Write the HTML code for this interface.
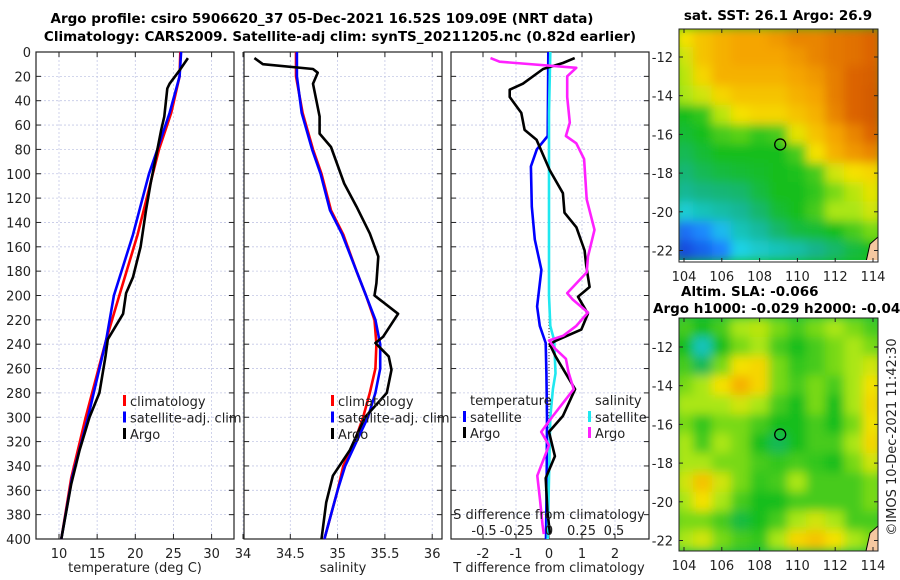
<!DOCTYPE html>
<html><head><meta charset="utf-8"><style>
body{margin:0;background:#fff;}
svg{display:block;font-family:"DejaVu Sans","Liberation Sans",sans-serif;}
.t{font-size:13px;fill:#222;}
.b{font-size:13.5px;font-weight:bold;fill:#000;}
</style></head><body>
<svg id="c" width="900" height="580" viewBox="0 0 900 580">
<defs>
<filter id="blur1" x="-10%" y="-10%" width="120%" height="120%"><feGaussianBlur stdDeviation="5"/></filter>
<clipPath id="clipM1"><rect x="679" y="29" width="199" height="231"/></clipPath>
<clipPath id="clipM2"><rect x="679" y="318" width="199" height="233"/></clipPath>
</defs>
<text class="b" x="322" y="23" text-anchor="middle">Argo profile: csiro 5906620_37 05-Dec-2021 16.52S 109.09E (NRT data)</text>
<text class="b" x="340" y="41" text-anchor="middle">Climatology: CARS2009. Satellite-adj clim: synTS_20211205.nc (0.82d earlier)</text>
<text class="b" x="778" y="20" text-anchor="middle">sat. SST: 26.1 Argo: 26.9</text>
<text class="b" x="681" y="296">Altim. SLA: -0.066</text>
<text class="b" x="653" y="313">Argo h1000: -0.029 h2000: -0.046</text>
<text class="t" transform="translate(896,437) rotate(-90)" text-anchor="middle">©IMOS 10-Dec-2021 11:42:30</text>
</svg>
<script>
// ---- data ----
const depthTicks=[0,20,40,60,80,100,120,140,160,180,200,220,240,260,280,300,320,340,360,380,400];
const tempTicks=[10,15,20,25,30];
const salTicks=[34,34.5,35,35.5,36];
const tdiffTicks=[-2,-1,0,1,2];
const sdiffTicks=[-0.5,-0.25,0,0.25,0.5];
const sdiffTickLabels=["-0.5","-0.25","0","0.25","0.5"];

const argoTDepth=[5,15,26,30,53,64,80,108,130,160,185,198,215,236,250,280,300,327,355,400];
const argoT=[26.9,25.8,24.5,24.2,23.8,23.4,22.9,22.0,21.4,20.7,19.7,18.8,18.4,16.4,16.1,15.3,14.0,12.7,11.6,10.3];
const climDepth=[0,20,50,80,100,150,200,236,300,350,400];
const climT=[25.9,25.8,24.7,23.1,22.3,20.3,17.9,16.2,13.5,11.6,10.3];
const satT=[26.0,25.8,24.5,22.9,21.8,19.7,17.2,16.2,13.8,11.7,10.3];

const argoSDepth=[5,10,14,17,26,53,67,78,108,127,149,168,190,200,215,234,239,250,261,280,300,327,348,370,400];
const argoS=[34.12,34.21,34.74,34.79,34.74,34.81,34.81,34.93,35.07,35.2,35.34,35.43,35.41,35.39,35.64,35.48,35.4,35.54,35.57,35.52,35.29,35.13,34.95,34.88,34.83];
const climSDepth=[0,20,50,80,100,130,150,180,200,220,240,260,280,300,320,340,360,380,400];
const climS=[34.56,34.56,34.63,34.74,34.83,34.93,35.06,35.2,35.3,35.39,35.41,35.4,35.34,35.27,35.18,35.06,35.0,34.93,34.86];
const satS=[34.57,34.57,34.62,34.73,34.82,34.92,35.05,35.2,35.3,35.4,35.45,35.45,35.4,35.32,35.2,35.08,35.0,34.93,34.86];

const tdArgoDepth=[5,9,14,26,31,37,50,64,72,97,116,132,144,163,176,193,201,215,228,237,240,250,277,299,312,332,350,377,396];
const tdArgo=[0.78,0.42,-0.18,-0.79,-1.19,-1.19,-0.84,-0.74,-0.38,0.02,0.42,0.47,0.83,1.08,1.13,1.23,0.88,1.18,0.98,0.22,0.02,0.2,0.79,0.42,0.0,0.18,-0.1,-0.05,0.03];
const sdArgoDepth=[5,8,13,20,37,58,69,75,88,121,146,168,181,198,203,214,225,233,237,244,252,263,277,299,312,323,348,367,388,396];
const sdArgo=[-0.45,-0.38,0.21,0.14,0.14,0.16,0.13,0.21,0.27,0.29,0.35,0.3,0.29,0.14,0.18,0.3,0.21,0.11,0.0,0.05,0.13,0.15,0.19,0.03,-0.06,0.0,-0.09,-0.07,-0.05,-0.04];
const tdSatDepth=[0,37,69,80,94,127,154,179,209,225,239,264,300,350,400];
const tdSat=[-0.02,-0.03,-0.04,-0.37,-0.55,-0.52,-0.43,-0.23,-0.36,-0.28,-0.1,-0.08,-0.06,-0.07,-0.09];
const sdSatDepth=[0,50,100,150,200,225,237,264,277,300,350,400];
const sdSat=[0.01,0.0,0.0,0.0,0.0,0.01,0.04,0.05,0.03,0.01,0.0,-0.01];

const lonTicks=[104,106,108,110,112,114];
const latTicks=[-12,-14,-16,-18,-20,-22];
const mapLons=[104,105,106,107,108,109,110,111,112,113,114];
const mapLats=[-11,-12,-13,-14,-15,-16,-17,-18,-19,-20,-21,-22];
const sstGrid=[
[0.7,0.75,0.78,0.8,0.8,0.82,0.85,0.85,0.87,0.88,0.9],
[0.65,0.75,0.78,0.8,0.8,0.8,0.82,0.85,0.87,0.88,0.9],
[0.62,0.72,0.78,0.78,0.78,0.78,0.8,0.82,0.86,0.9,0.92],
[0.6,0.65,0.72,0.75,0.75,0.75,0.78,0.8,0.86,0.9,0.93],
[0.45,0.48,0.62,0.7,0.72,0.72,0.75,0.78,0.85,0.9,0.93],
[0.43,0.45,0.5,0.52,0.48,0.5,0.68,0.75,0.8,0.85,0.9],
[0.4,0.43,0.45,0.45,0.45,0.45,0.5,0.7,0.78,0.82,0.85],
[0.37,0.4,0.42,0.43,0.44,0.45,0.46,0.5,0.65,0.7,0.72],
[0.34,0.36,0.37,0.38,0.42,0.45,0.45,0.48,0.55,0.62,0.68],
[0.27,0.3,0.32,0.34,0.38,0.43,0.45,0.5,0.6,0.6,0.65],
[0.12,0.16,0.22,0.3,0.33,0.38,0.42,0.43,0.45,0.5,0.55],
[0.06,0.1,0.15,0.25,0.28,0.3,0.32,0.35,0.38,0.42,0.45]];
const slaGrid=[
[0.5,0.45,0.5,0.6,0.62,0.55,0.5,0.55,0.6,0.55,0.5],
[0.45,0.3,0.45,0.55,0.6,0.5,0.45,0.5,0.55,0.6,0.55],
[0.5,0.4,0.55,0.7,0.72,0.55,0.48,0.5,0.55,0.6,0.65],
[0.55,0.6,0.7,0.78,0.72,0.55,0.5,0.55,0.5,0.6,0.7],
[0.6,0.6,0.6,0.65,0.6,0.5,0.45,0.55,0.45,0.6,0.72],
[0.55,0.48,0.55,0.55,0.5,0.45,0.45,0.5,0.45,0.55,0.7],
[0.6,0.5,0.6,0.55,0.45,0.4,0.45,0.5,0.5,0.6,0.72],
[0.6,0.6,0.55,0.55,0.5,0.48,0.5,0.48,0.45,0.55,0.65],
[0.65,0.75,0.65,0.55,0.48,0.5,0.6,0.5,0.5,0.5,0.55],
[0.6,0.7,0.6,0.5,0.45,0.45,0.5,0.5,0.5,0.5,0.55],
[0.55,0.55,0.5,0.42,0.45,0.5,0.6,0.65,0.6,0.5,0.5],
[0.6,0.65,0.55,0.5,0.48,0.6,0.72,0.75,0.7,0.6,0.55]];
const argoLon=109.09, argoLat=-16.52;

// ---- helpers ----
const svg=document.getElementById('c');
const NS='http://www.w3.org/2000/svg';
function mk(tag,attrs,parent){const e=document.createElementNS(NS,tag);for(const k in attrs)e.setAttribute(k,attrs[k]);(parent||svg).appendChild(e);return e;}
const Y0=52,Y1=539;
const yD=d=>Y0+(d/400)*(Y1-Y0);
const P1={x0:36,x1:234}, P2={x0:244,x1:442}, P3={x0:451,x1:649};
const xT=t=>59+(t-10)*7.63;
const xS=s=>243+(s-34)*94.6;
const xTD=v=>549+v*33;
const xSD=v=>549+v*130;

function panel(P,name,gridXs){
  const g=mk('g',{});
  
  
  gridXs.forEach(x=>{const l=mk('line',{x1:x,x2:x,y1:Y0,y2:Y1,stroke:'#c4c8e6','stroke-width':0.8,'stroke-dasharray':'2,2'},g);
    });
  depthTicks.forEach(d=>{const y=yD(d);
    const l=mk('line',{x1:P.x0,x2:P.x1,y1:y,y2:y,stroke:'#c4c8e6','stroke-width':0.8,'stroke-dasharray':'2,2'},g);
    
    mk('line',{x1:P.x0,x2:P.x0+5,y1:y,y2:y,stroke:'#222'},g);
    mk('line',{x1:P.x1-5,x2:P.x1,y1:y,y2:y,stroke:'#222'},g);});
  gridXs.forEach(x=>{mk('line',{x1:x,x2:x,y1:Y1-5,y2:Y1,stroke:'#222'},g);mk('line',{x1:x,x2:x,y1:Y0,y2:Y0+5,stroke:'#222'},g);});
  const r=mk('rect',{x:P.x0,y:Y0,width:P.x1-P.x0,height:Y1-Y0,fill:'none',stroke:'#222','stroke-width':1.2},g);
  
  return g;
}
function series(xs,ds,xf,color,name,w){
  const pts=xs.map((v,i)=>xf(v).toFixed(1)+','+yD(ds[i]).toFixed(1)).join(' ');
  const p=mk('polyline',{points:pts,fill:'none',stroke:color,'stroke-width':w||2.6,'stroke-linejoin':'round'});
  
  
}
function txt(x,y,s,anchor,name,cls){const t=mk('text',{x:x,y:y,'text-anchor':anchor||'start',class:cls||'t'});t.textContent=s;
  return t;}
function legendMark(x,y,color,name){const r=mk('rect',{x:x,y:y-11,width:3,height:11,fill:color});
  }

depthTicks.forEach(d=>txt(31,yD(d)+5,String(d),'end','y-tick-label'));

panel(P1,'temperature-panel',tempTicks.map(xT));
series(climT,climDepth,xT,'#ff0000','temp-climatology-line');
series(satT,climDepth,xT,'#0000ff','temp-satellite-line');
series(argoT,argoTDepth,xT,'#000000','temp-argo-line');
tempTicks.forEach(t=>txt(xT(t),558,String(t),'middle','temp-tick-label'));
txt(135,572,'temperature (deg C)','middle','temp-axis-title');
[['#ff0000','climatology'],['#0000ff','satellite-adj. clim'],['#000000','Argo']].forEach((e,i)=>{
  legendMark(123,406+i*16.5,e[0],'temp-legend-mark');txt(130,406+i*16.5,e[1],'start','temp-legend-entry');});

panel(P2,'salinity-panel',salTicks.map(xS));
series(climS,climSDepth,xS,'#ff0000','sal-climatology-line');
series(satS,climSDepth,xS,'#0000ff','sal-satellite-line');
series(argoS,argoSDepth,xS,'#000000','sal-argo-line');
salTicks.forEach(t=>txt(xS(t),558,String(t),'middle','sal-tick-label'));
txt(343,572,'salinity','middle','sal-axis-title');
[['#ff0000','climatology'],['#0000ff','satellite-adj. clim'],['#000000','Argo']].forEach((e,i)=>{
  legendMark(331,406+i*16.5,e[0],'sal-legend-mark');txt(338,406+i*16.5,e[1],'start','sal-legend-entry');});

panel(P3,'difference-panel',tdiffTicks.map(xTD));
const z=mk('line',{x1:xTD(0),x2:xTD(0),y1:Y0,y2:Y1,stroke:'#333','stroke-width':1,'stroke-dasharray':'1,2'});

series(tdSat,tdSatDepth,xTD,'#0000ff','tdiff-satellite-line');
series(sdSat,sdSatDepth,xSD,'#20e8f0','sdiff-satellite-line');
series(tdArgo,tdArgoDepth,xTD,'#000000','tdiff-argo-line');
series(sdArgo,sdArgoDepth,xSD,'#ff20ff','sdiff-argo-line');
tdiffTicks.forEach(t=>txt(xTD(t),558,String(t),'middle','tdiff-tick-label'));
txt(549,572,'T difference from climatology','middle','tdiff-axis-title');
txt(549,519,'S difference from climatology','middle','sdiff-axis-title');
sdiffTicks.forEach((t,i)=>txt(xSD(t),535,sdiffTickLabels[i],'middle','sdiff-tick-label'));
txt(470,405,'temperature','start','tdiff-legend-header');
legendMark(463,422,'#0000ff','tdiff-legend-mark');txt(470,422,'satellite','start','tdiff-legend-entry');
legendMark(463,438,'#000000','tdiff-legend-mark');txt(470,438,'Argo','start','tdiff-legend-entry');
txt(595,405,'salinity','start','sdiff-legend-header');
legendMark(588,422,'#20e8f0','sdiff-legend-mark');txt(595,422,'satellite','start','sdiff-legend-entry');
legendMark(588,438,'#ff20ff','sdiff-legend-mark');txt(595,438,'Argo','start','sdiff-legend-entry');

const stops=[[0,[10,40,200]],[0.15,[30,130,255]],[0.25,[30,210,230]],[0.35,[20,180,140]],[0.45,[20,190,30]],[0.6,[170,230,20]],[0.7,[245,225,0]],[0.8,[245,165,0]],[0.9,[220,100,0]],[1,[190,70,0]]];
function cmap(v){for(let i=1;i<stops.length;i++){if(v<=stops[i][0]){const a=stops[i-1],b=stops[i],f=(v-a[0])/(b[0]-a[0]);
  const c=a[1].map((q,k)=>Math.round(q+(b[1][k]-q)*f));return 'rgb('+c.join(',')+')';}}return 'rgb(190,70,0)';}
function drawMap(grid,top,latRef,name,clip){
  const xL=lon=>684+(lon-104)*18.9;
  const yL=lat=>latRef+(-12-lat)*19.35;
  const g=mk('g',{'clip-path':'url(#'+clip+')'});
  
  
  mk('rect',{x:679,y:top,width:199,height:233,fill:cmap(grid[6][5])},g);
  const inner=mk('g',{filter:'url(#blur1)'},g);
  grid.forEach((row,r)=>row.forEach((v,c)=>{
    const cell=mk('rect',{x:xL(mapLons[c]-0.5)-0.5,y:yL(mapLats[r]+0.5)-0.5,width:19.9,height:20.4,fill:cmap(v)},inner);
    }));
  const land=mk('path',{d:'M866,'+(top+233)+' L870,'+(top+215)+' L878,'+(top+208)+' L878,'+(top+233)+' Z',fill:'#f5c8a0',stroke:'#000','stroke-width':1},g);
  
  const fr=mk('rect',{x:679,y:top,width:199,height:233,fill:'none',stroke:'#222','stroke-width':1});
  
  latTicks.forEach(l=>{const y=yL(l);mk('line',{x1:679,x2:683,y1:y,y2:y,stroke:'#222'});mk('line',{x1:874,x2:878,y1:y,y2:y,stroke:'#222'});
    txt(673,y+5,String(l),'end','map-lat-label');});
  lonTicks.forEach(l=>{const x=xL(l);mk('line',{x1:x,x2:x,y1:top+229,y2:top+233,stroke:'#222'});mk('line',{x1:x,x2:x,y1:top,y2:top+4,stroke:'#222'});
    txt(x,top+252,String(l),'middle','map-lon-label');});
  const m=mk('circle',{cx:xL(argoLon),cy:yL(argoLat),r:5.5,fill:'none',stroke:'#000','stroke-width':1.3});
  
}
drawMap(sstGrid,29,57,'sst-map','clipM1');
drawMap(slaGrid,318,347,'sla-map','clipM2');
</script>
</body></html>
